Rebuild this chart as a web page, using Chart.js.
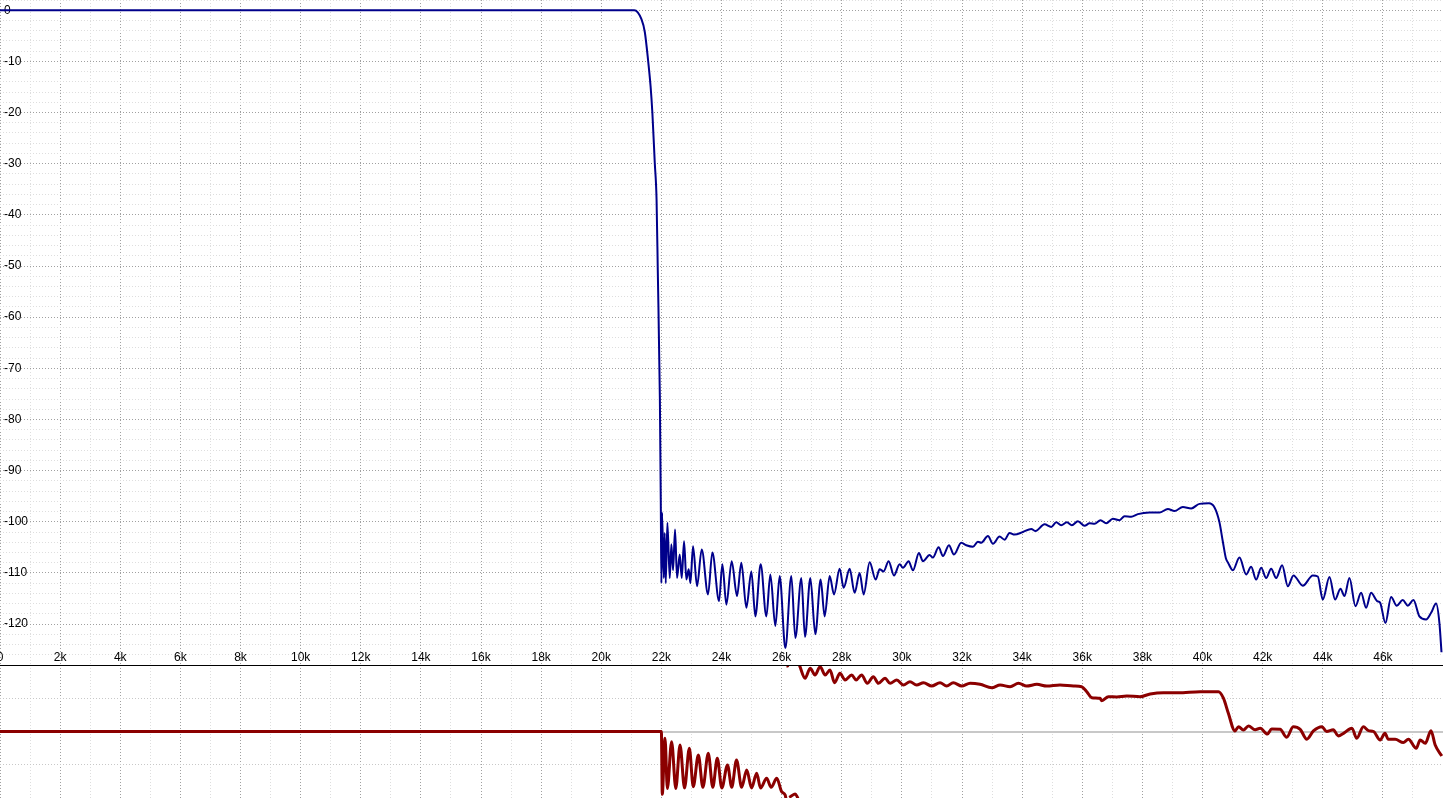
<!DOCTYPE html>
<html>
<head>
<meta charset="utf-8">
<title>Filter response</title>
<script src="https://cdn.jsdelivr.net/npm/chart.js@4/dist/chart.umd.min.js"></script>
<style>
    html, body { margin: 0; padding: 0; background: #fff; overflow: hidden; }
    #wrap { position: relative; width: 1443px; height: 798px; }
    #magChart { position: absolute; left: 0; top: 0; z-index: 2; }
    #phaseChart { position: absolute; left: 0; top: 665px; z-index: 1; }
</style>
</head>
<body>
<div id="wrap">
    <canvas id="magChart" width="1443" height="668"></canvas>
    <canvas id="phaseChart" width="1443" height="133"></canvas>
</div>
<script>
// Magnitude response (Hz, dB)
const magHz = [
    0, 21100, 21340, 21450, 21560, 21640, 21700, 21780, 21840, 21880, 21950, 21980, 22000,
    22023, 22078, 22111, 22145, 22200, 22278, 22333, 22388, 22455, 22521, 22610, 22677, 22754,
    22832, 22909, 22965, 23053, 23186, 23342, 23552, 23696, 23918, 24029, 24162, 24339, 24516,
    24660, 24827, 24993, 25126, 25303, 25492, 25625, 25791, 25935, 26124, 26323, 26456, 26656,
    26777, 26955, 27121, 27298, 27431, 27598, 27742, 27930, 28063, 28263, 28429, 28595, 28728,
    28928, 29127, 29260, 29393, 29559, 29737, 29925, 30036, 30224, 30368, 30568, 30701, 30923,
    31033, 31222, 31366, 31565, 31732, 31976, 32142, 32364, 32530, 32641, 32862, 33029, 33250,
    33416, 33582, 33749, 34026, 34303, 34447, 34746, 34968, 35134, 35300, 35489, 35655, 35855,
    36076, 36243, 36409, 36608, 36797, 37018, 37240, 37406, 37628, 37850, 38238, 38570, 38848,
    39069, 39346, 39623, 39900, 40211, 40400, 40560, 40680, 40780, 40850, 41009, 41230, 41452,
    41618, 41785, 41951, 42117, 42284, 42450, 42649, 42838, 43026, 43336, 43669, 43835, 44001,
    44223, 44411, 44589, 44722, 44888, 45088, 45276, 45442, 45608, 45808, 45908, 46085, 46273,
    46462, 46661, 46828, 47016, 47216, 47437, 47604, 47770, 47881, 47950
];
const magDb = [
    0, 0, -1.8, -4.3, -9.9, -14.8, -20, -29.8, -37, -50.7, -76, -95.7, -112,
    -98.2, -111, -102.2, -112, -100.2, -111, -104.4, -109.5, -101.5, -111, -106.4, -111, -103.8,
    -111.3, -109.3, -112, -104.8, -112.6, -105.4, -114.2, -106, -115.5, -108.3, -116.2, -107.7, -114.5,
    -108, -116.8, -109.7, -118.5, -108.3, -118.5, -110.3, -120.4, -110.6, -124.7, -110.6, -122.7, -111,
    -122.5, -111, -122, -111.3, -118.5, -110.6, -114.2, -109.2, -112.9, -109.2, -113.9, -110, -114.2,
    -107.9, -111.3, -109.3, -109.7, -107.7, -110.5, -108.3, -109, -107.7, -109.5, -106.1, -107.7, -106.5,
    -107, -105, -106.7, -104.6, -106.4, -104.1, -104.6, -104.9, -103.9, -104.1, -102.8, -104.3, -102.9,
    -103.5, -102.2, -102.5, -102, -101.4, -101.8, -100.5, -101, -100.1, -100.7, -100.1, -100.7, -99.9,
    -100.8, -100.3, -100.4, -99.7, -100.3, -99.4, -99.7, -98.9, -99, -98.5, -98.2, -98.2, -97.5,
    -97.9, -97.1, -97.4, -96.5, -96.4, -97.2, -100, -104, -107.2, -108, -109.5, -107, -110.3,
    -108.8, -111.3, -109, -111, -109.2, -111, -108.5, -112.6, -110.5, -112.5, -110.5, -110.7, -115.2,
    -110.8, -115.2, -113.1, -114.5, -111, -116.5, -113.9, -116.8, -113.9, -115.5, -115.8, -119.8, -114.7,
    -116.4, -115.3, -116.4, -115.3, -118.5, -119.1, -117.8, -116, -119.8, -125.5
];

// Phase response (Hz, degrees, wrapped to +-180; null breaks the line at a wrap)
const phaseHz = [
    0, 22000, 22030, 22120, 22200, 22340, 22480, 22620, 22770, 22930, 23060, 23230, 23380,
    23560, 23710, 23860, 24010, 24200, 24340, 24500, 24670, 24840, 25000, 25170, 25300, 25500,
    25650, 25840, 26000, 26120, 26150, 26160, 26170, 26200, 26230, 26240, 26250, 26300, 26450,
    26520, 26560, 26565, 26570, 26610, 26780, 26950, 27110, 27280, 27450, 27610, 27760, 27940,
    28110, 28330, 28480, 28660, 28850, 29050, 29220, 29440, 29610, 29830, 30050, 30270, 30490,
    30720, 30990, 31270, 31490, 31710, 31990, 32270, 32600, 32990, 33270, 33600, 33880, 34150,
    34490, 34820, 35260, 35710, 35980, 36150, 36320, 36590, 36650, 36870, 37150, 37480, 37920,
    38260, 38700, 39200, 39920, 40530, 40700, 40860, 41080, 41200, 41360, 41530, 41750, 41920,
    42160, 42300, 42580, 42800, 43020, 43250, 43470, 43690, 43970, 44130, 44350, 44520, 44690,
    44970, 45130, 45350, 45520, 45690, 45910, 46070, 46180, 46410, 46680, 46850, 47110, 47240,
    47410, 47600, 47740, 47960
];
const phaseDeg = [
    0, 0, -170, -18.5, -154, -27.6, -154, -36.6, -153, -45.6, -149.4, -63.6, -151,
    -59, -151, -72.6, -153, -90.7, -151, -77.2, -151, -104.2, -153, -113.2, -153, -126.8,
    -151, -126.8, -163, -172, -185, null, 178, 177, 185, null, -178, -176, -169,
    -177, -185, null, 185, 175.5, 144, 171, 153, 175.5, 153, 166.5, 132, 157.5,
    139.4, 153, 139.4, 153, 130.4, 148.4, 130.4, 144, 130.4, 139.4, 125.9, 134.9, 125.9,
    132, 123, 132, 123, 132, 123, 130.4, 127.7, 118.6, 125.9, 121.3, 130.4, 123,
    127.7, 123, 125.9, 123, 121.3, 107.8, 91.5, 89.8, 83.4, 94.2, 93.7, 96.1, 94.2,
    101.5, 105, 105, 107.8, 107.8, 89.8, 49.2, 1.4, 13, 4, 15, 5, 8.6,
    -6.8, 6.7, 6, -15.8, 13, 6, -21, 1.4, 13, 0, 4.5, -12, -5,
    9, -18.5, 13, 2.5, 0, -23, -4.9, -21, -21, -30, -21, -45.6, -23,
    -32, 2.3, -36.6, -66.4
];

// Axis ranges
const freqRange = [0, 48000];
const dbRange = [-128, 2];
const degRange = [-180, 180];

const MAJOR = '#a0a0a0';
const MINOR = '#dedede';
const DOTS = [1, 2];

Chart.defaults.font.family = '"Liberation Sans", Arial, sans-serif';
Chart.defaults.font.size = 12;
Chart.defaults.color = '#000';

function toPoints(xs, ys) {
    return xs.map((x, i) => ({ x: x, y: ys[i] }));
}

function freqGridColor(ctx) {
    if (!ctx.tick) return MAJOR;
    return ctx.tick.value % 2000 === 0 ? MAJOR : MINOR;
}

function freqLabel(v) {
    if (v % 2000 !== 0 || v >= 48000) return '';
    return v === 0 ? '0' : (v / 1000) + 'k';
}

// labels are drawn inside the plot, so the axes take no room at all
function noRoom(s) {
    if (s.isHorizontal()) s.height = 0; else s.width = 0;
    s.paddingTop = 0;
    s.paddingBottom = 0;
    s.paddingLeft = 0;
    s.paddingRight = 0;
}

const commonOptions = {
    responsive: false,
    animation: false,
    events: [],
    plugins: { legend: { display: false }, tooltip: { enabled: false } },
    elements: { point: { radius: 0 } }
};

// Magnitude chart
new Chart(document.getElementById('magChart').getContext('2d'), {
    type: 'line',
    data: {
        datasets: [{
            data: toPoints(magHz, magDb),
            borderColor: '#00008b',
            borderWidth: 2,
            cubicInterpolationMode: 'monotone',
            fill: false
        }]
    },
    options: {
        ...commonOptions,
        layout: { autoPadding: false, padding: { left: 0, right: 0, top: 0, bottom: 3 } },
        scales: {
            x: {
                type: 'linear',
                min: freqRange[0],
                max: freqRange[1],
                afterFit: noRoom,
                grid: { color: freqGridColor, drawTicks: false },
                border: { display: true, color: '#000', width: 1, dash: DOTS },
                ticks: {
                    stepSize: 1000, autoSkip: false, maxRotation: 0, minRotation: 0,
                    mirror: true, padding: 0, callback: freqLabel
                }
            },
            y: {
                type: 'linear',
                min: dbRange[0],
                max: dbRange[1],
                afterFit: noRoom,
                grid: {
                    color: ctx => (ctx.tick && ctx.tick.value % 10 === 0) ? MAJOR : MINOR,
                    drawTicks: false
                },
                border: { display: false, dash: DOTS },
                ticks: {
                    stepSize: 2, autoSkip: false, mirror: true, padding: 4,
                    callback: v => (v % 10 === 0 ? String(v) : '')
                }
            }
        }
    }
});

// Phase chart
new Chart(document.getElementById('phaseChart').getContext('2d'), {
    type: 'line',
    data: {
        datasets: [{
            data: toPoints(phaseHz, phaseDeg),
            borderColor: '#8b0000',
            borderWidth: 3,
            cubicInterpolationMode: 'monotone',
            spanGaps: false,
            fill: false
        }]
    },
    options: {
        ...commonOptions,
        layout: { autoPadding: false, padding: 0 },
        scales: {
            x: {
                type: 'linear',
                min: freqRange[0],
                max: freqRange[1],
                afterFit: noRoom,
                grid: { color: freqGridColor, drawTicks: false },
                border: { display: false, dash: DOTS },
                ticks: { stepSize: 1000, autoSkip: false, display: false }
            },
            y: {
                type: 'linear',
                min: degRange[0],
                max: degRange[1],
                afterFit: noRoom,
                grid: {
                    color: '#c8c8c8',
                    lineWidth: ctx => (ctx.tick && ctx.tick.value === 0) ? 2 : 1,
                    drawTicks: false
                },
                border: {
                    display: false,
                    dash: ctx => (ctx.tick && ctx.tick.value === 0) ? [] : DOTS
                },
                ticks: { stepSize: 90, display: false }
            }
        }
    }
});
</script>
</body>
</html>
